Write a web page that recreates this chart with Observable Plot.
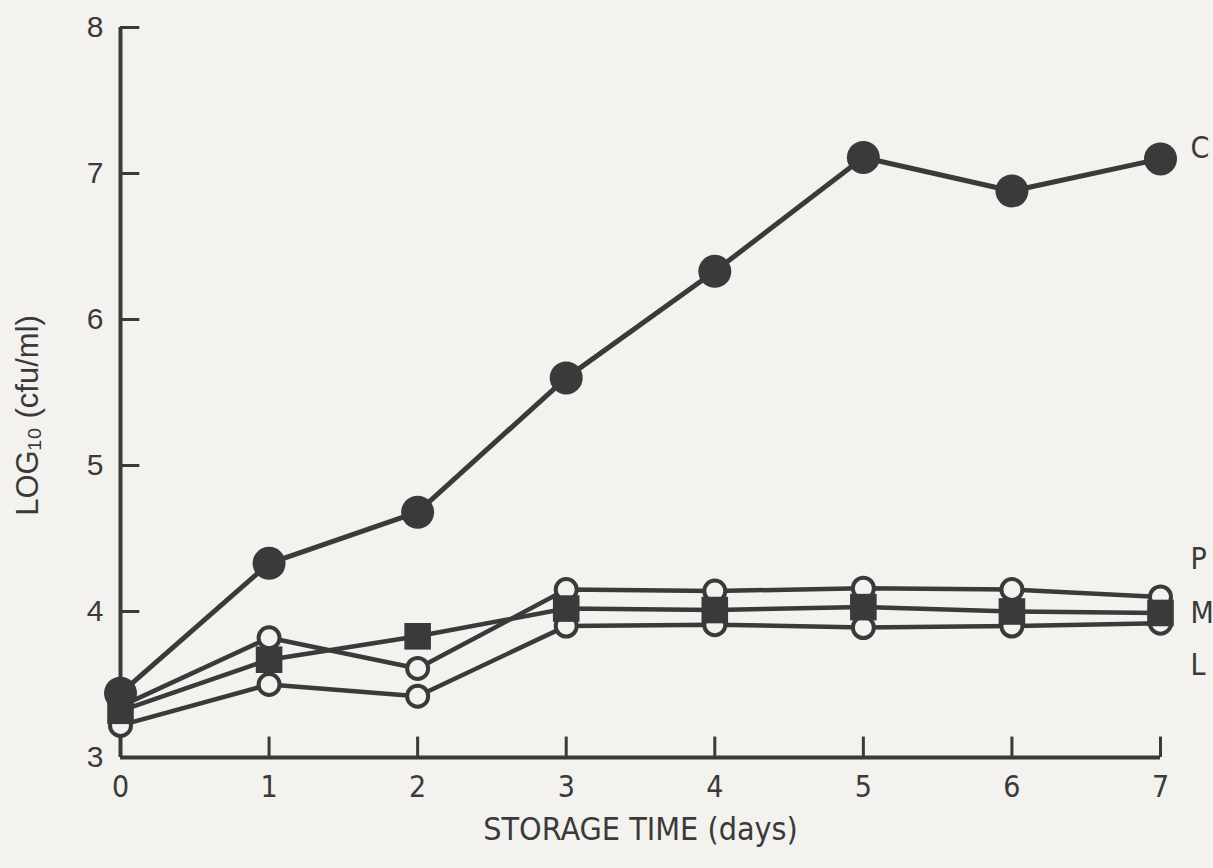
<!DOCTYPE html>
<html><head><meta charset="utf-8">
<script src="https://cdn.jsdelivr.net/npm/d3@7"></script>
<script src="https://cdn.jsdelivr.net/npm/@observablehq/plot@0.6"></script>
<style>html,body{margin:0;padding:0;background:#f3f2ef;}</style>
</head><body><div id="chart"></div>
<script>
// ---- data ----
const days = [0, 1, 2, 3, 4, 5, 6, 7];
const seriesC = [3.44, 4.33, 4.68, 5.60, 6.33, 7.11, 6.88, 7.10];
const seriesP = [3.35, 3.82, 3.61, 4.15, 4.14, 4.16, 4.15, 4.10];
const seriesM = [3.32, 3.67, 3.83, 4.02, 4.01, 4.03, 4.00, 3.99];
const seriesL = [3.22, 3.50, 3.42, 3.90, 3.91, 3.89, 3.90, 3.92];
const xTicks = [0, 1, 2, 3, 4, 5, 6, 7];
const yTicks = [3, 4, 5, 6, 7, 8];
const labelNames = ["C", "P", "M", "L"];
const labelValues = [7.17, 4.36, 3.99, 3.63];
const xTitle = "STORAGE TIME (days)";
const yTitle = "LOG\u2081\u2080 (cfu/ml)";

const ink = "#3b393a";
const bg = "#f3f2ef";
const narrow = "'Liberation Sans Narrow','DejaVu Sans Condensed','Liberation Sans',sans-serif";
const sans = "'Liberation Sans',Arial,sans-serif";

const toRows = (name, vals) => days.map((d, i) => ({series: name, day: d, value: vals[i]}));
const rowsC = toRows("C", seriesC);
const rowsP = toRows("P", seriesP);
const rowsM = toRows("M", seriesM);
const rowsL = toRows("L", seriesL);
const lower = [...rowsP, ...rowsM, ...rowsL];

const chart = Plot.plot({
  width: 1213,
  height: 868,
  marginLeft: 120,
  marginRight: 53,
  marginTop: 27,
  marginBottom: 111,
  x: {domain: [0, 7], axis: null},
  y: {domain: [3, 8], axis: null},
  style: {background: bg, fontFamily: sans, color: ink},
  marks: [
    // axis lines
    Plot.ruleY([3], {stroke: ink, strokeWidth: 4}),
    Plot.ruleX([0], {stroke: ink, strokeWidth: 4}),
    // inward ticks
    Plot.ruleX(xTicks.slice(1), {x: d => d, y1: 3, y2: 3.14, stroke: ink, strokeWidth: 3}),
    Plot.ruleY(yTicks.slice(1), {y: d => d, x1: 0, x2: 0.13, stroke: ink, strokeWidth: 3}),
    // tick labels
    Plot.text(xTicks, {x: d => d, y: 3, dy: 30, text: d => String(d), fontSize: 30, fontFamily: narrow, fill: ink}),
    Plot.text(yTicks, {x: 0, y: d => d, dx: -17, text: d => String(d), textAnchor: "end", fontSize: 30, fill: ink}),
    // axis titles
    Plot.text([xTitle], {frameAnchor: "bottom", dy: 82, text: d => d, fontSize: 32, fontFamily: narrow, fill: ink}),
    Plot.text([yTitle], {frameAnchor: "left", textAnchor: "middle", dx: -92, dy: 23, rotate: -90, text: d => d, fontSize: 31, fill: ink}),
    // lines
    Plot.line(lower, {x: "day", y: "value", z: "series", stroke: ink, strokeWidth: 4.5}),
    Plot.line(rowsC, {x: "day", y: "value", stroke: ink, strokeWidth: 5}),
    // markers
    Plot.dot(rowsL, {x: "day", y: "value", r: 10.5, fill: bg, stroke: ink, strokeWidth: 4}),
    Plot.dot(rowsP, {x: "day", y: "value", r: 10.5, fill: bg, stroke: ink, strokeWidth: 4}),
    Plot.dot(rowsM, {x: "day", y: "value", symbol: "square", r: 15, fill: ink}),
    Plot.dot(rowsC, {x: "day", y: "value", r: 16.5, fill: ink}),
    // series labels
    Plot.text(labelNames, {x: 7, y: (d, i) => labelValues[i], dx: 30, text: d => d, textAnchor: "start", fontSize: 30, fontFamily: narrow, fill: ink})
  ]
});
document.getElementById("chart").appendChild(chart);
</script>
</body></html>
